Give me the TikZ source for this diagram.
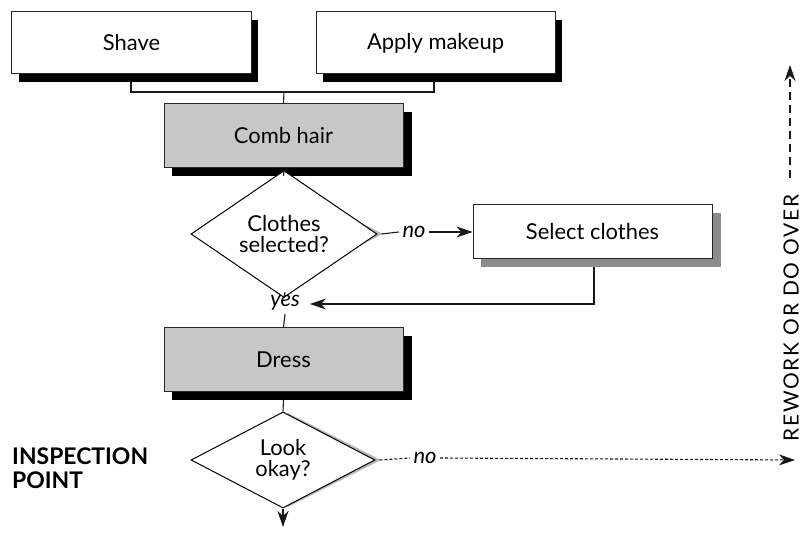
\documentclass[tikz,border=0pt]{standalone}
\usepackage{fontspec}
\setmainfont{Lato}
\newfontfamily\spacedfont[LetterSpace=8]{Lato}
\usetikzlibrary{shapes.geometric,arrows.meta,calc}

\tikzset{
  lbl/.style={font=\fontsize{22}{24}\selectfont},
  ital/.style={font=\fontsize{22}{24}\selectfont\itshape},
  task/.style={draw=black!85, line width=1bp, rectangle, minimum width=#1,
               align=center, lbl},
  whitebox/.style={task=#1, fill=white},
  graybox/.style={task=#1, fill=black!22},
  decision/.style={draw=black, line width=1bp, diamond, fill=white,
                   minimum width=#1, minimum height=94bp, inner sep=0pt,
                   align=center, lbl},
  flow/.style={draw=black!90, line width=1.1bp},
  tip/.style={-{Stealth[length=16bp,width=11bp,inset=5bp]}},
  fine/.style={dash pattern=on 3bp off 2bp},
  coarse/.style={dash pattern=on 8bp off 5bp},
}

\begin{document}
\begin{tikzpicture}[x=1bp,y=1bp]
\useasboundingbox (0,0) rectangle (808,538);

% ---- shadows behind the task boxes
\fill[black] (19,456) rectangle (258,518);
\fill[black] (323,456) rectangle (562,518);
\fill[black] (172,362) rectangle (412,426);
\fill[black!45] (481,271) rectangle (721,325);
\fill[black] (172,138) rectangle (412,202);
% ---- shadows of the decisions
\fill[black!28] (289,351) -- (383,304) -- (289,257) -- (195,304) -- cycle;
\fill[black!28] (288,125) -- (381,78) -- (288,31) -- (195,78) -- cycle;

% ---- task boxes
\node[whitebox=239bp, minimum height=62bp] (shave) at (131.5,495) {Shave};
\node[whitebox=239bp, minimum height=62bp] (makeup) at (435.5,495) {Apply makeup};
\node[graybox=239bp, minimum height=64bp] (comb) at (283.5,402) {Comb hair};
\node[decision=186bp] (sel) at (284,304) {Clothes\\[-3bp]selected?};
\node[whitebox=239bp, minimum height=54bp] (pick) at (592.5,306) {Select clothes};
\node[graybox=239bp, minimum height=64bp] (dress) at (283.5,178) {Dress};
\node[decision=184bp] (look) at (283,78) {Look\\[-3bp]okay?};

% ---- labels
\node[ital] (no1) at (414,306) {no};
\node[ital] (yes) at (285,235) {yes};
\node[ital] (no2) at (425,80) {no};
\node[font=\fontsize{23}{25}\selectfont\bfseries, align=left, anchor=west,
      inner sep=0pt] (insp) at (12,70) {INSPECTION\\[-1bp]POINT};
\node[font=\fontsize{21}{23}\spacedfont, rotate=90, inner sep=0pt] (redo)
  at (791,220) {REWORK OR DO OVER};

% ---- named connector points
\coordinate (j) at (284,446);
\coordinate (ls) at (131,456);
\coordinate (lm) at (434,456);
\coordinate (yesin) at (310,234);
\coordinate (out) at (594,271);
\coordinate (loop) at (795,78);
\coordinate (up) at (790,473);
\coordinate (upfoot) at (790,360);
\coordinate (exit) at (283,11);

% ---- connectors
\draw[flow] (ls) |- (j) -| (lm);
\draw[flow] (j) -- (comb.north);
\draw[flow] (comb.south |- 0,362) -- (sel.north);
\draw[flow] (sel.east) ++(4,0) -- (no1.west);
\draw[flow, tip] (no1.east) -- (no1.east -| pick.west);
\draw[flow, tip] (out) |- (yesin);
\draw[flow] (sel.south) -- (yes.north);
\draw[flow] (yes.south) -- (dress.north);
\draw[flow] (dress.south |- 0,138) -- (look.north);
\draw[flow, tip] (look.south) -- (exit);
\draw[flow, fine] (look.east) ++(4,0) -- (no2.west);
\draw[flow, fine, tip] (no2.east) -- (loop);
\draw[flow, coarse, tip] (upfoot) -- (up);
\end{tikzpicture}
\end{document}
